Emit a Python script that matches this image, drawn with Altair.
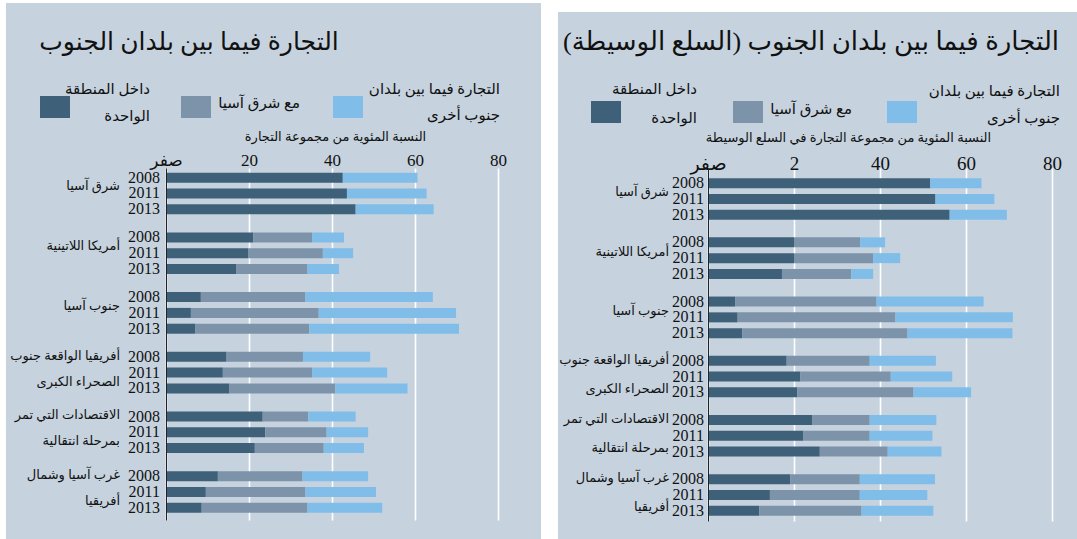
import altair as alt
import pandas as pd

FONT = "Liberation Serif, DejaVu Sans"
BG = "#c6d3df"

region_ids = ["EA", "LA", "SA", "SSA", "TE", "WANA"]
left_region_labels = ["شرق آسيا", "أمريكا اللاتينية", "جنوب آسيا",
                      "أفريقيا الواقعة جنوب|الصحراء الكبرى",
                      "الاقتصادات التي تمر|بمرحلة انتقالية",
                      "غرب آسيا وشمال|أفريقيا"]
right_region_labels = ["شرق آسيا", "أمريكا اللاتينية", "جنوب آسيا",
                       "أفريقيا الواقعة جنوب|الصحراء الكبرى",
                       "الاقتصادات التي تمر|بمرحلة انتقالية",
                       "غرب آسيا وشمال|أفريقيا"]
years = ["2008", "2011", "2013"]
categories = ["داخل المنطقة الواحدة", "مع شرق آسيا", "التجارة فيما بين بلدان جنوب أخرى"]
legend_labels = ["داخل المنطقة|الواحدة", "مع شرق آسيا", "التجارة فيما بين بلدان|جنوب أخرى"]
colors = ["#3e6079", "#7d93a9", "#80bde9"]
tick_values = [0, 20, 40, 60, 80]

left_title = "التجارة فيما بين بلدان الجنوب"
right_title = "التجارة فيما بين بلدان الجنوب (السلع الوسيطة)"
left_axis_title = "النسبة المئوية من مجموعة التجارة"
right_axis_title = "النسبة المئوية من مجموعة التجارة في السلع الوسيطة"

# segment values, region-major then year (2008, 2011, 2013)
left_within = [42.6, 43.6, 45.7, 21.0, 19.9, 17.0, 8.4, 6.0, 7.1,
               14.6, 13.7, 15.3, 23.3, 23.9, 21.4, 12.5, 9.6, 8.6]
left_east_asia = [0, 0, 0, 14.2, 17.9, 17.1, 25.2, 30.8, 27.4,
                  18.4, 21.5, 25.5, 11.0, 14.8, 16.6, 20.4, 24.0, 25.5]
left_other = [18.0, 19.2, 18.8, 7.7, 7.3, 7.6, 30.7, 33.1, 36.1,
              16.2, 18.1, 17.4, 11.4, 10.0, 9.7, 15.8, 17.0, 18.0]

right_within = [51.7, 52.9, 56.2, 20.0, 20.0, 17.2, 6.3, 6.9, 8.0,
                18.3, 21.5, 20.8, 24.3, 22.2, 26.0, 19.1, 14.4, 11.9]
right_east_asia = [0, 0, 0, 15.4, 18.4, 16.1, 32.9, 36.7, 38.4,
                   19.3, 21.0, 27.0, 13.3, 15.4, 15.8, 16.2, 20.9, 23.8]
right_other = [11.9, 13.7, 13.3, 5.8, 6.3, 5.1, 24.9, 27.3, 24.4,
               15.4, 14.3, 13.4, 15.5, 14.6, 12.5, 17.5, 15.7, 16.7]


def one():
    return alt.Data(values=[{"k": 0}])


def rect(x1, x2, y1, y2, color):
    return alt.Chart(one()).mark_rect(color=color).encode(
        x=alt.value(x1), x2=alt.value(x2), y=alt.value(y1), y2=alt.value(y2))


def panel(within, east, other, region_labels, title, axis_title, label_expr, s):
    rows = []
    for i, vals in enumerate(zip(within, east, other)):
        for k, v in enumerate(vals):
            rows.append({"region": region_ids[i // 3], "year": years[i % 3],
                         "cat": categories[k], "value": v, "ord": k})
    df = pd.DataFrame(rows)
    ydf = pd.DataFrame([{"region": r, "year": y} for r in region_ids for y in years])
    rdf = pd.DataFrame({"region": region_ids, "label": region_labels})
    rdf1 = rdf[~rdf["label"].str.contains("|", regex=False)]
    rdf2 = rdf[rdf["label"].str.contains("|", regex=False)]

    yscale = alt.Scale(domain=region_ids, paddingInner=s["pi"], paddingOuter=s["po"], align=s["al"])
    oscale = alt.Scale(domain=years, paddingInner=s["opi"], paddingOuter=s["opi"] / 2)
    yaxis = alt.Axis(labels=False, ticks=False, domain=True, domainColor="#222",
                     domainWidth=1, grid=False, title=None, zindex=1)
    xaxis = alt.Axis(orient="top", values=tick_values, labelExpr=label_expr, grid=True,
                     gridColor="white", gridWidth=1.6, domain=False, ticks=False, tickSize=0,
                     labelPadding=s["lp"], labelBaseline="middle", labelFont=FONT,
                     labelFontSize=s["lfs"], labelColor="#111", labelFlush=False,
                     title=axis_title,
                     titleFont=FONT, titleFontSize=13, titleFontWeight="normal",
                     titleColor="#111", titleX=s["tx"], titleY=s["ty"],
                     titleBaseline="middle", titleAlign="center")

    bars = alt.Chart(df).mark_bar().encode(
        x=alt.X("value:Q", stack="zero", scale=alt.Scale(domain=[0, 80], nice=False), axis=xaxis),
        y=alt.Y("region:N", scale=yscale, axis=yaxis),
        yOffset=alt.YOffset("year:N", scale=oscale),
        color=alt.Color("cat:N", scale=alt.Scale(domain=categories, range=colors), legend=None),
        order=alt.Order("ord:Q"),
    )
    year_text = alt.Chart(ydf).mark_text(align="right", baseline="middle", font=FONT,
                                         fontSize=16, color="#111").encode(
        x=alt.value(s["yx"]),
        y=alt.Y("region:N", scale=yscale, axis=yaxis),
        yOffset=alt.YOffset("year:N", scale=oscale),
        text="year:N",
    )

    def region_layer(d, dy):
        return alt.Chart(d).mark_text(align="right", baseline="middle", font=FONT,
                                      fontSize=13, color="#111", lineBreak="|",
                                      lineHeight=s["rlh"], dy=dy).encode(
            x=alt.value(s["rx"]),
            y=alt.Y("region:N", scale=yscale, axis=yaxis),
            text="label:N",
        )

    title_text = alt.Chart(one()).mark_text(align="center", baseline="middle", font=FONT,
                                            fontSize=s["tfs"], color="#111").encode(
        x=alt.value(s["ttx"]), y=alt.value(-126), text=alt.value(title))

    layers = [rect(*r, "white") for r in s["white"]]
    layers.append(title_text)
    for k in range(3):
        sx, sy, lx, ly, lh = s["leg"][k]
        two = "|" in legend_labels[k]
        layers.append(rect(sx, sx + 30, sy, sy + 22, colors[k]))
        layers.append(alt.Chart(one()).mark_text(
            align="right", baseline="middle", font=FONT, fontSize=15, color="#111",
            lineBreak="|", lineHeight=lh).encode(
            x=alt.value(lx), y=alt.value(ly - lh / 2 if two else ly),
            text=alt.value(legend_labels[k])))
    layers += [bars, year_text,
               region_layer(rdf1, s["rdy1"]),
               region_layer(rdf2, s["rdy"] - s["rlh"] / 2)]
    return alt.layer(*layers).properties(width=s["w"], height=s["h"])


left_style = dict(w=332, h=352, pi=0.206, po=0.051, al=0.295, opi=0.367, lp=8, lfs=17,
                  tx=169, ty=-32, yx=-6, rx=-46, rlh=26, rdy=-4, rdy1=-7, ttx=23, tfs=25,
                  white=[(-166, -160, -168, 371), (-166, 375, -168, -165), (375, 392, -168, 371)],
                  leg=[(-126, -72, -16, -66, 27), (15, -72, 134, -65, 27), (167, -72, 334, -66, 26)])
right_style = dict(w=344, h=353, pi=0.215, po=0.0887, al=0.69, opi=0.355, lp=5, lfs=19,
                   tx=140, ty=-31, yx=-4, rx=-39, rlh=29, rdy=-2, rdy1=-6, ttx=103, tfs=26,
                   white=[(-150, 369, -168, -156)],
                   leg=[(-117, -67, -11, -65, 29), (25, -67, 144, -59, 27), (179, -67, 352, -64, 27)])

left = panel(left_within, left_east_asia, left_other, left_region_labels, left_title,
             left_axis_title, "datum.value == 0 ? 'صفر' : datum.label", left_style)
right = panel(right_within, right_east_asia, right_other, right_region_labels, right_title,
              right_axis_title,
              "datum.value == 0 ? 'صفر' : (datum.value == 20 ? '2' : datum.label)", right_style)

chart = alt.hconcat(left, right, spacing=210, bounds="flush").properties(
    padding=0, background=BG
).configure_view(strokeWidth=0)

chart.save("out.html", embed_options={"renderer": "svg", "actions": False})
